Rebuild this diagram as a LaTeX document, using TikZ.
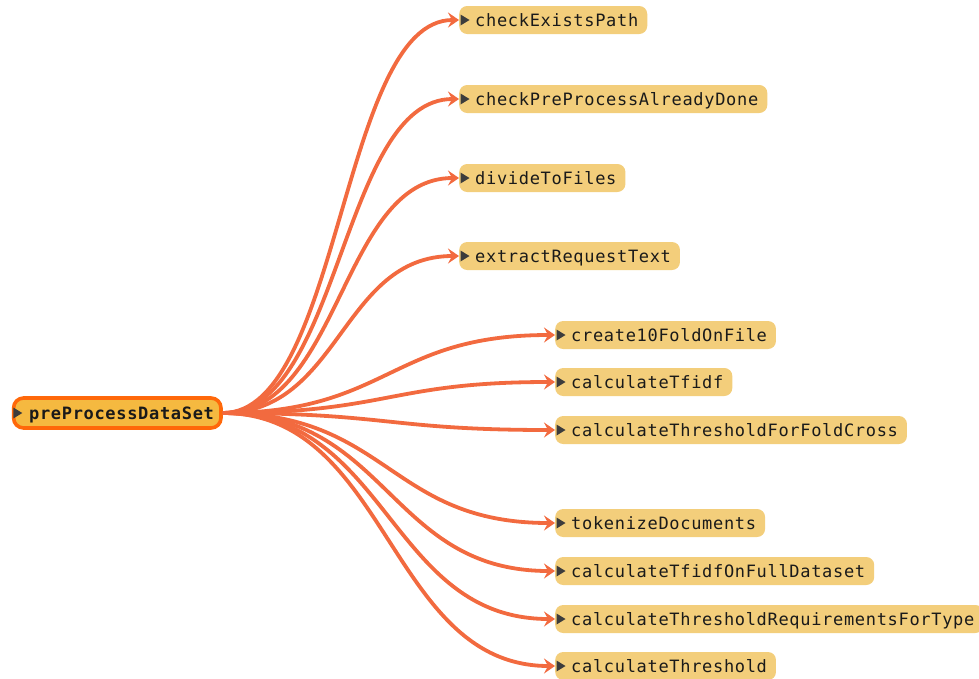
\documentclass[tikz,border=0pt]{standalone}
\usepackage{fontspec}
\setmonofont{DejaVu Sans Mono}[LetterSpace=4]
\usetikzlibrary{arrows.meta}
\definecolor{kidfill}{RGB}{243,206,123}
\definecolor{rootfill}{RGB}{245,185,64}
\definecolor{rootborder}{RGB}{255,104,10}
\definecolor{edgecol}{RGB}{242,106,63}
\definecolor{tricol}{RGB}{60,60,60}
\definecolor{txtcol}{RGB}{26,26,26}
\begin{document}
\begin{tikzpicture}[x=1pt,y=-1pt,
  kid/.style={fill=kidfill, rounded corners=8pt, minimum height=28pt,
    inner xsep=0pt, inner ysep=0pt, anchor=west, text=txtcol,
    font=\ttfamily\fontsize{17}{19}\selectfont,
    text height=13.5pt, text depth=1pt},
  rootbox/.style={fill=rootfill, draw=rootborder, line width=3.6pt,
    rounded corners=10pt, minimum height=30pt, inner xsep=0pt, inner ysep=0pt,
    anchor=west, text=txtcol,
    font=\ttfamily\bfseries\fontsize{17}{19}\selectfont,
    text height=13.5pt, text depth=1pt},
  edge/.style={draw=edgecol, line width=3.8pt,
    -{Stealth[length=11pt,width=15pt,inset=4pt]}},
  marker/.style={fill=tricol}
]
\useasboundingbox (0,0) rectangle (979,678);

% root of the call tree
\node[rootbox] (root) at (11.8,413) {\hspace*{15.5pt}preProcessDataSet\hspace*{7pt}};

% called functions
\foreach \n/\x/\y/\t in {
  k1/459/20/checkExistsPath,
  k2/459/99/checkPreProcessAlreadyDone,
  k3/459/178/divideToFiles,
  k4/459/256/extractRequestText,
  k5/555/335/create10FoldOnFile,
  k6/555/382/calculateTfidf,
  k7/555/430/calculateThresholdForFoldCross,
  k8/555/523/tokenizeDocuments,
  k9/555/571/calculateTfidfOnFullDataset,
  k10/555/619/calculateThresholdRequirementsForType,
  k11/555/666/calculateThreshold}
  \node[kid] (\n) at (\x,\y) {\hspace*{16pt}\t\hspace*{9pt}};

% connectors from the root to each callee
\foreach \n/\c in {k1/118,k2/118,k3/118,k4/118,
                   k5/166,k6/166,k7/166,k8/166,k9/166,k10/166,k11/166}
  \draw[edge] (root.east) .. controls +(\c,0) and +(-\c,0) .. (\n.west);

% expand markers at the left of each box
\foreach \n in {k1,k2,k3,k4,k5,k6,k7,k8,k9,k10,k11}
  \fill[marker] ([xshift=1.5pt]\n.west) ++(0,-5.5) -- ++(9,5.5) -- ++(-9,5.5) -- cycle;
\fill[marker] ([xshift=1.5pt]root.west) ++(0,-5.5) -- ++(9,5.5) -- ++(-9,5.5) -- cycle;
\end{tikzpicture}
\end{document}
